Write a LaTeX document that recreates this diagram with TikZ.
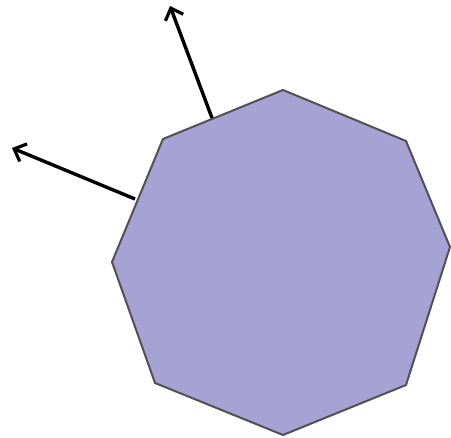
\documentclass[tikz,border=0pt]{standalone}
\usetikzlibrary{arrows.meta}
\definecolor{octfill}{RGB}{166,163,212}
\definecolor{octline}{RGB}{80,80,85}
\tikzset{
  octa/.style={fill=octfill, draw=octline, line width=2pt, line join=miter},
  vec/.style={draw=black, line width=3.4pt, -{Straight Barb[length=10pt,width=19pt,line width=3.2pt]}}
}
\begin{document}
\begin{tikzpicture}[x=1pt,y=-1pt]
\useasboundingbox (0,0) rectangle (451,438);
\coordinate (v1) at (283,90);
\coordinate (v2) at (406,141);
\coordinate (v3) at (450,247);
\coordinate (v4) at (406,385);
\coordinate (v5) at (283,435);
\coordinate (v6) at (155,383);
\coordinate (v7) at (112,262);
\coordinate (v8) at (163,139);
\path[octa] (v1) -- (v2) -- (v3) -- (v4) -- (v5) -- (v6) -- (v7) -- (v8) -- cycle;
\coordinate (a1s) at (212,118);
\coordinate (a1e) at (170,6);
\coordinate (a2s) at (135,199);
\coordinate (a2e) at (12,148);
\draw[vec] (a1s) -- (a1e);
\draw[vec] (a2s) -- (a2e);
\end{tikzpicture}
\end{document}
